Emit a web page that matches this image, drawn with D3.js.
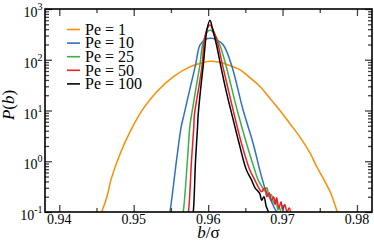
<!DOCTYPE html>
<meta charset="utf-8">
<style>
  body { margin:0; background:#fff; }
  text { font-family:"Liberation Serif", "DejaVu Serif", serif; fill:#000; }
</style>
<svg width="374" height="242"></svg>
<script src="https://cdnjs.cloudflare.com/ajax/libs/d3/7.8.5/d3.min.js"></script>
<script>

// legend labels
var labels = ["Pe = 1", "Pe = 10", "Pe = 25", "Pe = 50", "Pe = 100"];

// [b/sigma, P(b)]
var pe1 = [[0.9453,0.07],[0.9457,0.1],[0.9464,0.2],[0.9470,0.46],[0.9482,1.44],[0.9495,3.8],[0.9513,11],[0.9531,23.5],
  [0.9553,46],[0.9576,73],[0.9593,87.5],[0.9603,93],[0.9614,90],[0.9628,78],[0.9643,63],[0.9658,42],[0.9670,29.5],
  [0.9685,16],[0.9697,9.8],[0.9710,5.5],[0.9723,3.05],[0.9737,1.44],[0.9746,0.78],[0.9755,0.45],[0.9764,0.25],
  [0.9769,0.16],[0.97735,0.1],[0.9776,0.07]];

var pe10 = [[0.9546,0.07],[0.95486,0.1],[0.95576,1.06],[0.95638,4.8],[0.95674,8.1],[0.95768,32],[0.95831,79],
  [0.9589,195],[0.9597,255],[0.9604,265],[0.9611,250],[0.96204,195],[0.96314,79],[0.9647,10.2],[0.96604,2.26],
  [0.96694,0.67],[0.9673,0.43],[0.9678,0.25],[0.9682,0.2],[0.9686,0.15],[0.9689,0.12],[0.9692,0.1],[0.9694,0.08]];

var pe25 = [[0.9564,0.07],[0.95665,0.1],[0.95722,1.06],[0.95754,4.8],[0.95777,8.1],[0.95844,32],[0.9589,79],
  [0.95925,195],[0.9598,340],[0.9603,385],[0.9608,330],[0.96157,195],[0.96238,79],[0.9639,10.2],[0.96515,2.26],
  [0.96626,0.67],[0.96671,0.43],[0.9672,0.32],[0.9676,0.26],[0.9679,0.3],[0.9682,0.2],[0.9685,0.22],[0.9688,0.15],
  [0.9691,0.17],[0.9694,0.11],[0.9696,0.12],[0.9698,0.08]];

var pe50 = [[0.9571,0.07],[0.95735,0.1],[0.95777,1.06],[0.95808,4.8],[0.95815,8.1],[0.9588,32],[0.9592,79],
  [0.95942,195],[0.9598,380],[0.96025,485],[0.9607,380],[0.96134,195],[0.96193,79],[0.96336,10.2],[0.96448,2.26],
  [0.9656,0.67],[0.96626,0.43],[0.9668,0.3],[0.9672,0.25],[0.9676,0.3],[0.9679,0.2],[0.9682,0.24],[0.9685,0.17],
  [0.9688,0.2],[0.9690,0.14],[0.9692,0.19],[0.9695,0.12],[0.9698,0.16],[0.9700,0.11],[0.9703,0.14],[0.9706,0.1],
  [0.9709,0.12],[0.9712,0.08]];

var pe100 = [[0.9578,0.07],[0.9580,0.1],[0.95831,1.06],[0.95858,4.8],[0.95866,8.1],[0.95905,32],[0.95935,79],
  [0.9596,195],[0.95985,400],[0.96025,600],[0.9606,400],[0.96113,195],[0.96167,79],[0.9624,25],[0.96314,9],
  [0.96416,2.26],[0.96515,0.67],[0.96583,0.43],[0.9663,0.3],[0.96694,0.23],[0.9672,0.17],[0.9675,0.2],
  [0.9678,0.13],[0.9681,0.1],[0.9683,0.07]];

var series = [pe1, pe10, pe25, pe50, pe100];

// ticks
var xMajor = [0.94, 0.95, 0.96, 0.97, 0.98];
var xMinor = [0.945, 0.955, 0.965, 0.975];
var yExp = [-1, 0, 1, 2, 3];

var colors = ["#ff8c00", "#2f6fc6", "#3cb043", "#ee1c25", "#000000"];

var svg = d3.select("svg"),
    plotL = 45, plotR = 372, plotT = 9, plotB = 212;

var x = d3.scaleLinear().domain([0.93808, 0.98202]).range([plotL, plotR]);
var y = d3.scaleLog().domain([0.1, 1000]).range([plotB, plotT]);

var yMinor = [];
yExp.slice(0, 4).forEach(function(e) {
  for (var m = 2; m < 10; m++) yMinor.push(m * Math.pow(10, e));
});

svg.append("clipPath").attr("id", "clip")
  .append("rect").attr("x", plotL).attr("y", plotT)
  .attr("width", plotR - plotL).attr("height", plotB - plotT);

var line = d3.line()
    .x(function(d) { return x(d[0]); })
    .y(function(d) { return y(d[1]); })
    .curve(d3.curveCatmullRom.alpha(0.5));

svg.append("g").attr("clip-path", "url(#clip)")
  .selectAll("path")
  .data(series)
  .enter().append("path")
    .attr("fill", "none")
    .attr("stroke", function(d, i) { return colors[i]; })
    .attr("stroke-width", 1.5)
    .attr("stroke-linejoin", "round")
    .attr("d", line);

// axes, ticks inward
function tickAxis(axis, vals, size, tr) {
  var g = svg.append("g")
    .attr("transform", tr)
    .call(axis.tickValues(vals).tickSize(size).tickFormat(""));
  g.select(".domain").remove();
  g.selectAll(".tick line").attr("stroke", "#444").attr("stroke-width", 1.3);
  return g;
}
tickAxis(d3.axisBottom(x), xMajor, -7, "translate(0," + plotB + ")");
tickAxis(d3.axisBottom(x), xMinor, -4, "translate(0," + plotB + ")");
tickAxis(d3.axisTop(x), xMajor, -7, "translate(0," + plotT + ")");
tickAxis(d3.axisTop(x), xMinor, -4, "translate(0," + plotT + ")");
var yMaj = yExp.map(function(e) { return Math.pow(10, e); });
tickAxis(d3.axisLeft(y), yMaj, -7, "translate(" + plotL + ",0)");
tickAxis(d3.axisLeft(y), yMinor, -4, "translate(" + plotL + ",0)");
tickAxis(d3.axisRight(y), yMaj, -7, "translate(" + plotR + ",0)");
tickAxis(d3.axisRight(y), yMinor, -4, "translate(" + plotR + ",0)");

svg.append("rect")
  .attr("x", plotL).attr("y", plotT)
  .attr("width", plotR - plotL).attr("height", plotB - plotT)
  .attr("fill", "none").attr("stroke", "#000").attr("stroke-width", 1.6);

// tick labels
svg.append("g").selectAll("text")
  .data(xMajor)
  .enter().append("text")
    .attr("x", function(d) { return x(d); })
    .attr("y", 224)
    .attr("text-anchor", "middle")
    .style("font-size", "14px")
    .text(d3.format(".2f"));

var yl = svg.append("g").selectAll("text")
  .data(yExp)
  .enter().append("text")
    .attr("x", 42.5)
    .attr("y", function(d) { return y(Math.pow(10, d)) + 8; })
    .attr("text-anchor", "end")
    .style("font-size", "14px");
yl.append("tspan").text("10");
yl.append("tspan")
  .attr("dy", -7)
  .style("font-size", "10px")
  .text(function(d) { return d < 0 ? "-" + (-d) : d; });

// axis titles
var xt = svg.append("text")
  .attr("x", (plotL + plotR) / 2)
  .attr("y", 238)
  .attr("text-anchor", "middle")
  .style("font-size", "17px");
xt.append("tspan").style("font-style", "italic").text("b");
xt.append("tspan").text("/σ");

var yt = svg.append("text")
  .attr("transform", "translate(14,105)rotate(-90)")
  .attr("text-anchor", "middle")
  .style("font-size", "17px");
yt.append("tspan").style("font-style", "italic").text("P");
yt.append("tspan").text("(");
yt.append("tspan").style("font-style", "italic").text("b");
yt.append("tspan").text(")");

// legend
var legend = svg.append("g")
  .selectAll("g")
  .data(labels)
  .enter().append("g")
    .attr("transform", function(d, i) { return "translate(67," + (29.5 + i * 13.6) + ")"; });

legend.append("line")
  .attr("x2", 13)
  .attr("stroke", function(d, i) { return colors[i]; })
  .attr("stroke-width", 1.6);

legend.append("text")
  .attr("x", 18)
  .attr("dy", "0.33em")
  .style("font-size", "16px")
  .text(function(d) { return d; });

</script>
